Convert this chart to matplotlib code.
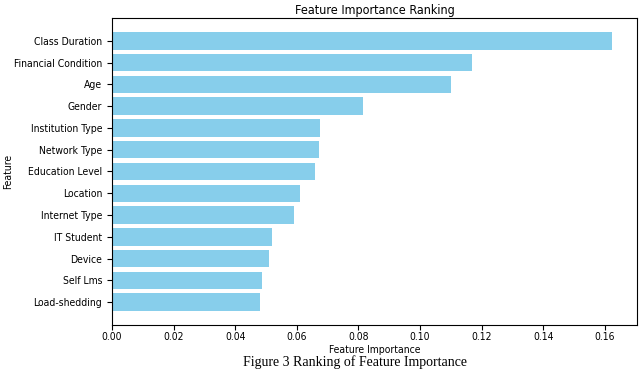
import matplotlib
matplotlib.use("Agg")
import matplotlib.pyplot as plt

plt.rcParams["font.family"] = ["DejaVu Sans"]
plt.rcParams["font.stretch"] = "condensed"

features = ["Class Duration", "Financial Condition", "Age", "Gender", "Institution Type",
            "Network Type", "Education Level", "Location", "Internet Type", "IT Student",
            "Device", "Self Lms", "Load-shedding"]
importances = [0.1623, 0.1168, 0.1102, 0.0816, 0.0676, 0.0673, 0.0660, 0.0610,
               0.0592, 0.0519, 0.0511, 0.0486, 0.0479]
xticks = [0.00, 0.02, 0.04, 0.06, 0.08, 0.10, 0.12, 0.14, 0.16]

fig = plt.figure(figsize=(6.4, 3.7), dpi=100)
ax = fig.add_axes([0.175, 0.122, 0.82, 0.829])
ax.barh(features[::-1], importances[::-1], color="skyblue", height=0.8)
ax.set_xticks(xticks)
ax.set_xticklabels([f"{t:.2f}" for t in xticks])
ax.tick_params(labelsize=7.5)
ax.tick_params(axis="x", pad=2)
ax.set_xlabel("Feature Importance", fontsize=7.5, labelpad=2)
ax.set_ylabel("Feature", fontsize=7.5)
ax.yaxis.set_label_coords(-0.188, 0.5)
ax.set_title("Feature Importance Ranking", fontsize=9, pad=3)
fig.text(0.555, 1 / 370, "Figure 3 Ranking of Feature Importance",
         family="Liberation Serif", stretch="normal", fontsize=10,
         ha="center", va="bottom")
fig.savefig("out.png", dpi=100)
